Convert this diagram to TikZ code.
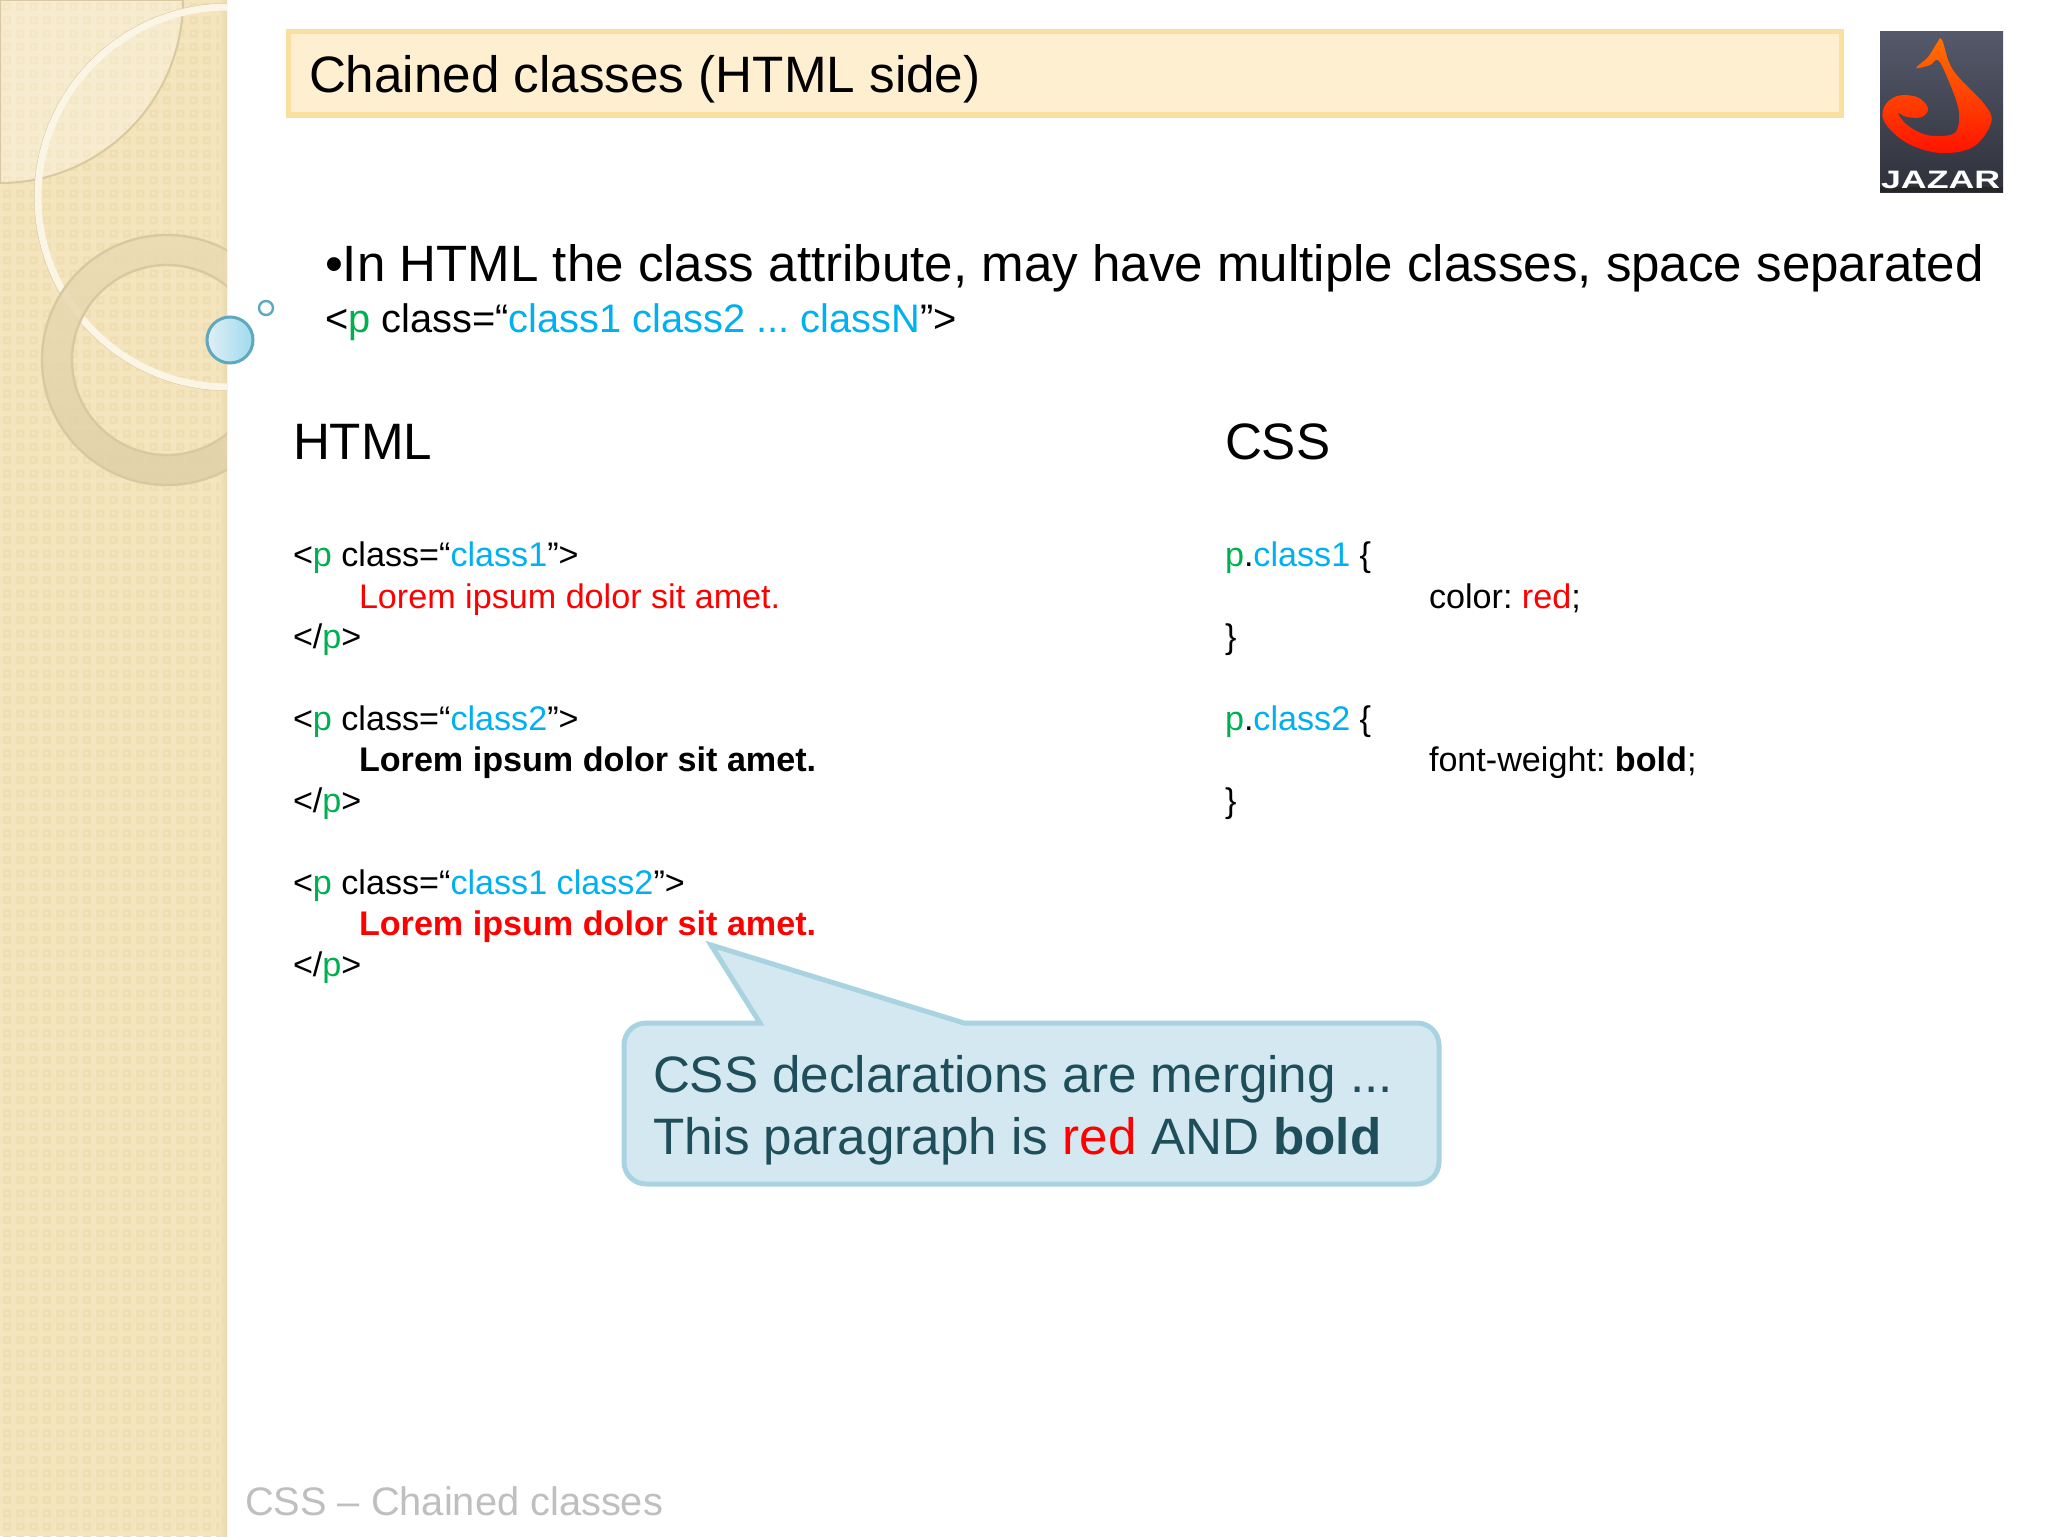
\documentclass[tikz,border=0pt]{standalone}
\usepackage{fontspec}
\setmainfont{Liberation Sans}
\newfontfamily\logofont[FakeStretch=1.42]{Liberation Sans}
\frenchspacing
\definecolor{stripbase}{HTML}{F4E5BE}
\definecolor{stripdark}{HTML}{EFDEB1}
\definecolor{stripline}{HTML}{D8C9A0}
\definecolor{titlefill}{HTML}{FEEFD1}
\definecolor{titleline}{HTML}{FBDF9F}
\definecolor{tagblue}{HTML}{00B0F0}
\definecolor{taggreen}{HTML}{00B050}
\definecolor{tagred}{HTML}{FF0000}
\definecolor{calloutfill}{HTML}{D3E8F0}
\definecolor{calloutline}{HTML}{A9D3E0}
\definecolor{callouttext}{HTML}{1F4E5B}
\definecolor{bubbleline}{HTML}{5FA9BE}
\definecolor{logogrey}{HTML}{55596A}
\newcommand{\tagb}[1]{\textcolor{tagblue}{#1}}
\newcommand{\tagg}[1]{\textcolor{taggreen}{#1}}
\newcommand{\tagr}[1]{\textcolor{tagred}{#1}}
\begin{document}
\begin{tikzpicture}[x=0.5pt,y=-0.5pt]
	\tikzstyle{every node}=[inner sep=0pt,outer sep=0pt,anchor=base west]
	\tikzstyle{code}=[font=\fontsize{17.07}{20}\selectfont]
	\tikzstyle{head}=[font=\fontsize{25.6}{30}\selectfont]
	\tikzstyle{ringline}=[draw=stripline,line width=1.2pt]

	\useasboundingbox (0,0) rectangle (2048,1536);
	\fill[white] (0,0) rectangle (2048,1536);

	\begin{scope}
		\clip (0,0) rectangle (227,1536);
		\fill[stripbase] (0,0) rectangle (227,1536);
		\fill[stripdark] foreach \col in {0,...,17} {foreach \row in {0,...,115} {
			(\col*13.33+3,\row*13.33+3) rectangle +(8,8)}};
		\fill[stripbase] foreach \col in {0,...,17} {foreach \row in {0,...,115} {
			(\col*13.33+5.5,\row*13.33+5.5) rectangle +(3,3)}};
		\shade[left color=stripbase,right color=stripdark!75!stripline] (219,0) rectangle (227,1536);
		\fill[white,fill opacity=0.28,draw=stripline,line width=1pt] (0,0) -- (183,0) arc (0:90:183) -- cycle;
		\draw[stripline,line width=3pt] (228,197) circle (191);
		\draw[white!60!stripbase,line width=3.5pt] (228,197) circle (190);
		\begin{scope}[even odd rule]
			\clip (0,0) rectangle (227,1536) (167,360) circle (95);
			\shade[top color=stripline!35!stripbase,bottom color=stripline!75!stripbase,fill opacity=0.85] (167,360) circle (125);
		\end{scope}
		\draw[ringline] (167,360) circle (125) (167,360) circle (95);
	\end{scope}

	\shade[left color=calloutfill!70!white,right color=calloutfill!75!tagblue,draw=bubbleline,line width=1.5pt] (230,340) circle (23);
	\filldraw[fill=white,draw=bubbleline,line width=1.2pt] (266,308) circle (7);

	\node[draw=titleline,fill=titlefill,line width=2.5pt,minimum width=776.5pt,minimum height=41.5pt,anchor=north west] (titlebox) at (288,32) {};
	\node[head] (title) at (309,92) {Chained classes (HTML side)};

	\shade[top color=logogrey,bottom color=logogrey!55!black] (1880,32) rectangle (2003,192);
	\fill[black!85] (1880,187) rectangle (2003,192);
	\shade[top color=orange!90!red,bottom color=red!85!orange] plot[smooth cycle,tension=0.6] coordinates {
		(1942,40) (1953,70) (1985,105) (1991,123) (1973,147) (1940,153) (1907,143) (1885,123) (1884,107)
		(1897,96) (1917,97) (1928,108) (1922,117) (1907,117) (1898,113) (1907,125) (1927,135) (1950,135)
		(1958,127) (1958,107) (1947,77) (1938,60) (1930,65) (1916,68) (1928,57) (1937,43)};
	\node[font=\logofont\fontsize{12.6}{15}\bfseries\selectfont,text=white] (jazar) at (1881,188) {JAZAR};

	\node[font=\fontsize{25.54}{30}\selectfont] (bullet) at (325,281) {•In HTML the class attribute, may have multiple classes, space separated};
	\node[font=\fontsize{19.9}{24}\selectfont] (syntax) at (325,332) {<\tagg{p} class=“\tagb{class1 class2 ... classN}”>};

	\node[head] (htmlhead) at (293,459) {HTML};
	\node[head] (csshead) at (1225,459) {CSS};

	\node[code] (open1) at (293,566) {<\tagg{p} class=“\tagb{class1}”>};
	\node[code] (text1) at (359,608) {\tagr{Lorem ipsum dolor sit amet.}};
	\node[code] (close1) at (293,648) {</\tagg{p}>};
	\node[code] (open2) at (293,730) {<\tagg{p} class=“\tagb{class2}”>};
	\node[code] (text2) at (359,771) {\textbf{Lorem ipsum dolor sit amet.}};
	\node[code] (close2) at (293,812) {</\tagg{p}>};
	\node[code] (open3) at (293,894) {<\tagg{p} class=“\tagb{class1 class2}”>};
	\node[code] (text3) at (359,935) {\tagr{\textbf{Lorem ipsum dolor sit amet.}}};
	\node[code] (close3) at (293,976) {</\tagg{p}>};

	\node[code] (rule1) at (1225,566) {\tagg{p}.\tagb{class1} \{};
	\node[code] (decl1) at (1429,608) {color: \tagr{red};};
	\node[code] (end1) at (1225,648) {\}};
	\node[code] (rule2) at (1225,730) {\tagg{p}.\tagb{class2} \{};
	\node[code] (decl2) at (1429,771) {font-weight: \textbf{bold};};
	\node[code] (end2) at (1225,812) {\}};

	\filldraw[fill=calloutfill,draw=calloutline,line width=2.5pt,rounded corners=11pt]
		(964,1023) -- (1439,1023) -- (1439,1184) -- (624,1184) -- (624,1023) [sharp corners] -- (760,1023) -- (711,945) -- cycle;
	\node[head,text=callouttext] (merge1) at (653,1092) {CSS declarations are merging ...};
	\node[head,text=callouttext] (merge2) at (653,1154) {This paragraph is \tagr{red} AND \textbf{bold}};

	\node[font=\fontsize{19.9}{24}\selectfont,text=black!25] (footer) at (245,1515) {CSS – Chained classes};
\end{tikzpicture}
\end{document}
